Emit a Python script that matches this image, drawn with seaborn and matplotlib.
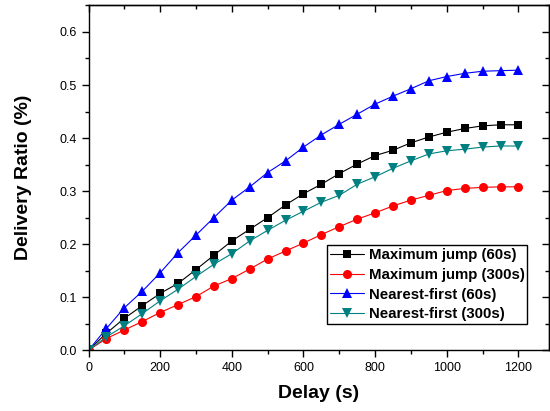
import matplotlib
matplotlib.use("Agg")
import matplotlib.pyplot as plt
import seaborn as sns
import pandas as pd
from matplotlib.ticker import MultipleLocator, FormatStrFormatter, NullFormatter

delay = [0, 50, 100, 150, 200, 250, 300, 350, 400, 450, 500, 550, 600,
         650, 700, 750, 800, 850, 900, 950, 1000, 1050, 1100, 1150, 1200]
max_jump_60 = [0.0, 0.032, 0.060, 0.084, 0.107, 0.126, 0.152, 0.179, 0.206, 0.228, 0.250, 0.274, 0.295,
               0.313, 0.333, 0.351, 0.367, 0.377, 0.391, 0.402, 0.411, 0.418, 0.423, 0.425, 0.425]
max_jump_300 = [0.0, 0.022, 0.038, 0.054, 0.071, 0.086, 0.101, 0.121, 0.135, 0.153, 0.172, 0.187, 0.202,
                0.218, 0.233, 0.247, 0.259, 0.272, 0.283, 0.292, 0.301, 0.305, 0.307, 0.308, 0.308]
nearest_60 = [0.0, 0.041, 0.080, 0.111, 0.146, 0.184, 0.217, 0.250, 0.283, 0.308, 0.335, 0.357, 0.383,
              0.406, 0.426, 0.445, 0.464, 0.479, 0.493, 0.508, 0.516, 0.522, 0.526, 0.527, 0.528]
nearest_300 = [0.0, 0.025, 0.046, 0.069, 0.093, 0.115, 0.139, 0.162, 0.182, 0.206, 0.226, 0.245, 0.262,
               0.279, 0.292, 0.313, 0.327, 0.343, 0.357, 0.370, 0.376, 0.379, 0.383, 0.385, 0.385]

series_names = ["Maximum jump (60s)", "Maximum jump (300s)", "Nearest-first (60s)", "Nearest-first (300s)"]
series_values = [max_jump_60, max_jump_300, nearest_60, nearest_300]

rows = []
for name, vals in zip(series_names, series_values):
    for d, v in zip(delay, vals):
        rows.append({"Delay": d, "Ratio": v, "Series": name})
df = pd.DataFrame(rows)

sns.set_theme(style="ticks")
plt.rcParams['font.family'] = ['Liberation Sans', 'DejaVu Sans']
plt.rcParams['text.color'] = 'black'
plt.rcParams['axes.labelcolor'] = 'black'

palette = {series_names[0]: "#000000", series_names[1]: "#FF0000",
           series_names[2]: "#0000FF", series_names[3]: "#008080"}
markers = {series_names[0]: "s", series_names[1]: "o",
           series_names[2]: "^", series_names[3]: "v"}
sizes_m = {series_names[0]: 5.5, series_names[1]: 6.5,
           series_names[2]: 7, series_names[3]: 7}

fig = plt.figure(figsize=(5.5, 4.11), dpi=100)
ax = fig.add_axes([0.161, 0.148, 0.837, 0.840])

for name in series_names:
    sns.lineplot(data=df[df["Series"] == name], x="Delay", y="Ratio", ax=ax,
                 color=palette[name], marker=markers[name], markersize=sizes_m[name],
                 markeredgewidth=0, linewidth=0.8, label=name)

ax.set_xlim(0, 1285)
ax.set_ylim(0, 0.651)
ax.xaxis.set_major_locator(MultipleLocator(200))
ax.xaxis.set_minor_locator(MultipleLocator(100))
ax.yaxis.set_major_locator(MultipleLocator(0.1))
ax.yaxis.set_minor_locator(MultipleLocator(0.05))
ax.yaxis.set_major_formatter(FormatStrFormatter('%.1f'))

for s in ax.spines.values():
    s.set_visible(True)
    s.set_color("black")
    s.set_linewidth(1.0)

ax.tick_params(axis='both', which='major', direction='out', length=5, width=1,
               labelsize=9, colors='black', labelcolor='black')
ax.tick_params(axis='both', which='minor', direction='out', length=3, width=1, colors='black')

# top and right axes with inward ticks, no labels
secx = ax.secondary_xaxis('top')
secx.xaxis.set_major_locator(MultipleLocator(200))
secx.xaxis.set_minor_locator(MultipleLocator(100))
secx.xaxis.set_major_formatter(NullFormatter())
secx.tick_params(which='major', direction='in', length=5, width=1, colors='black')
secx.tick_params(which='minor', direction='in', length=3, width=1, colors='black')
secx.spines['top'].set_linewidth(1.0)

secy = ax.secondary_yaxis('right')
secy.yaxis.set_major_locator(MultipleLocator(0.1))
secy.yaxis.set_minor_locator(MultipleLocator(0.05))
secy.yaxis.set_major_formatter(NullFormatter())
secy.tick_params(which='major', direction='in', length=5, width=1, colors='black')
secy.tick_params(which='minor', direction='in', length=3, width=1, colors='black')
secy.spines['right'].set_linewidth(1.0)

ax.set_xlabel("Delay (s)", fontsize=14, fontweight='bold', labelpad=8, color='black')
ax.set_ylabel("Delivery Ratio (%)", fontsize=14, fontweight='bold', labelpad=20, color='black')

leg = ax.legend(loc='upper left', bbox_to_anchor=(0.517, 0.304), frameon=True,
                fancybox=False, shadow=False, borderpad=0.2, labelspacing=0.38,
                handlelength=2.3, handletextpad=0.3, borderaxespad=0,
                prop={'weight': 'bold', 'size': 10.8})
leg.get_frame().set_edgecolor('black')
leg.get_frame().set_linewidth(1.0)
leg.get_frame().set_alpha(1.0)

fig.savefig("out.png", dpi=100)
